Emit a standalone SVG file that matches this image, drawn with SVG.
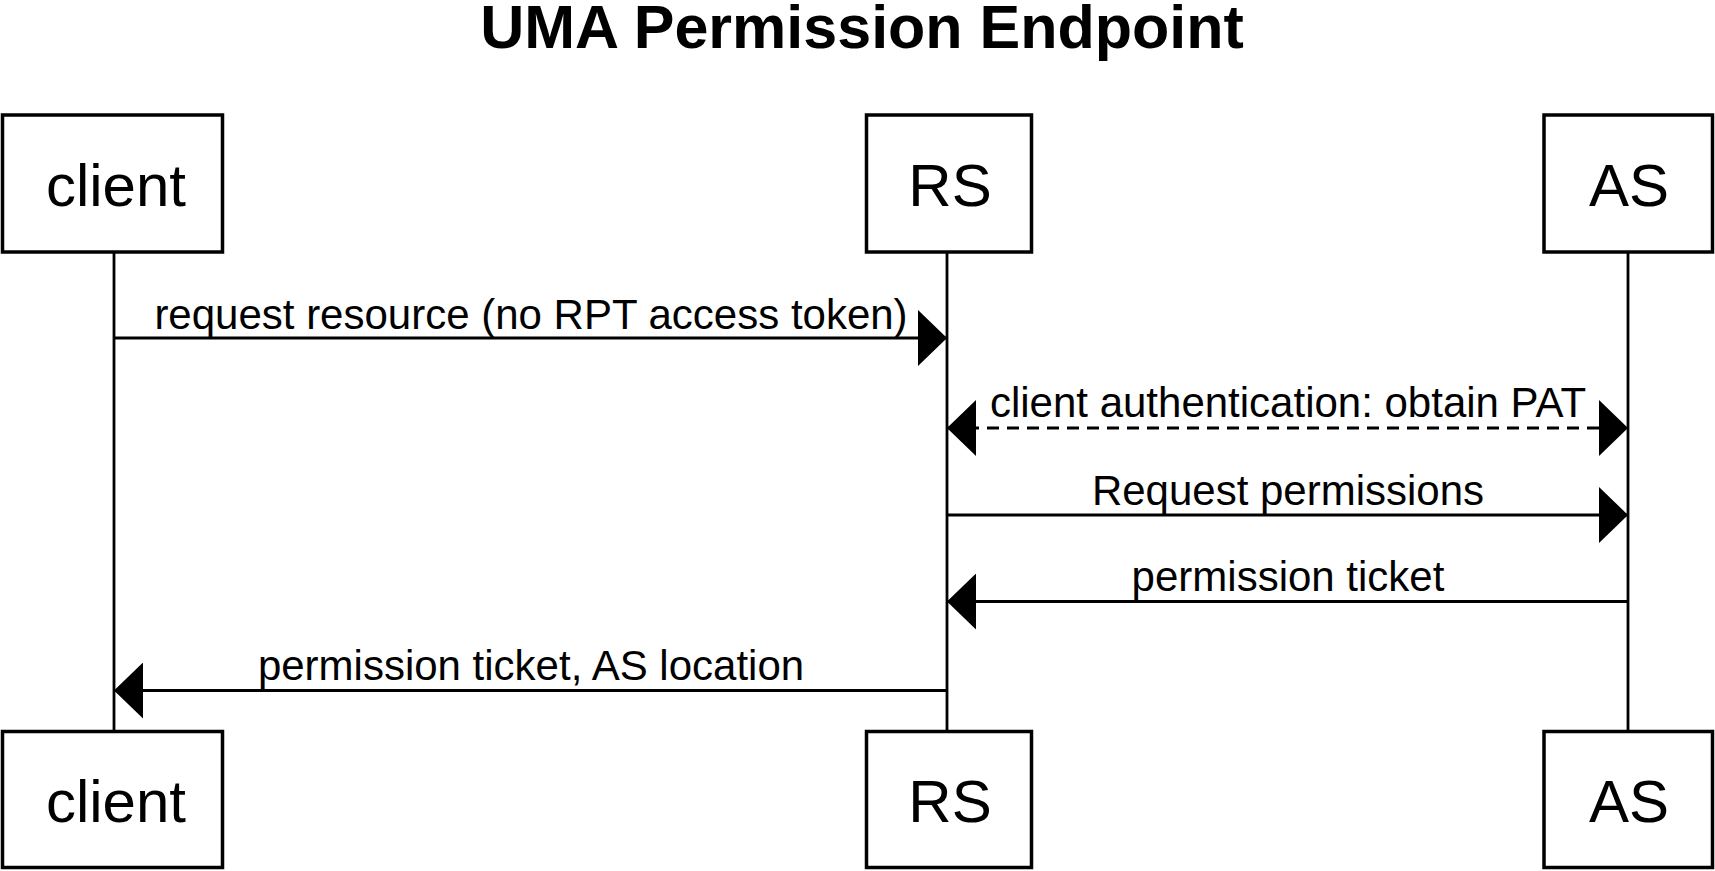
<svg xmlns="http://www.w3.org/2000/svg" width="1715" height="871" viewBox="0 0 1715 871">
<style>
.box{fill:#fff;stroke:#000;stroke-width:3.5}
.life{stroke:#000;stroke-width:2.8;fill:none}
.msg{stroke:#000;stroke-width:3;fill:none}
.dash{stroke-dasharray:12 8}
.name{font-family:"Liberation Sans",Arial,sans-serif;font-size:60px;text-anchor:middle;fill:#000}
.lbl{font-family:"Liberation Sans",Arial,sans-serif;font-size:42px;text-anchor:middle;fill:#000}
.title{font-family:"Liberation Sans",Arial,sans-serif;font-size:61px;font-weight:bold;text-anchor:middle;fill:#000}
</style>
<defs>
<marker id="ah" markerUnits="userSpaceOnUse" markerWidth="30" markerHeight="56" refX="29" refY="28" orient="auto-start-reverse" viewBox="0 0 30 56">
<path d="M0,0 L29,28 L0,56 z" fill="#000"/>
</marker>
</defs>
<rect width="1715" height="871" fill="#fff"/>
<text class="title" x="862" y="48">UMA Permission Endpoint</text>
<g id="lifelines">
<line class="life" x1="114" y1="252" x2="114" y2="731"/>
<line class="life" x1="947" y1="252" x2="947" y2="731"/>
<line class="life" x1="1628" y1="252" x2="1628" y2="731"/>
</g>
<g id="client-top"><rect class="box" x="2.5" y="115" width="220" height="137"/><text class="name" x="116" y="206">client</text></g>
<g id="rs-top"><rect class="box" x="866.5" y="115" width="165" height="137"/><text class="name" x="950" y="206">RS</text></g>
<g id="as-top"><rect class="box" x="1544" y="115" width="168.5" height="137"/><text class="name" x="1629" y="206">AS</text></g>
<g id="client-bottom"><rect class="box" x="2.5" y="731.5" width="220" height="136"/><text class="name" x="116" y="821.5">client</text></g>
<g id="rs-bottom"><rect class="box" x="866.5" y="731.5" width="165" height="136"/><text class="name" x="950" y="821.5">RS</text></g>
<g id="as-bottom"><rect class="box" x="1544" y="731.5" width="168.5" height="136"/><text class="name" x="1629" y="821.5">AS</text></g>
<g id="connectors">
<line class="msg" x1="114" y1="338" x2="947" y2="338" marker-end="url(#ah)"/>
<text class="lbl" x="531" y="329">request resource (no RPT access token)</text>
<line class="msg dash" x1="947" y1="428" x2="1628" y2="428" marker-start="url(#ah)" marker-end="url(#ah)"/>
<text class="lbl" x="1288" y="417">client authentication: obtain PAT</text>
<line class="msg" x1="947" y1="515" x2="1628" y2="515" marker-end="url(#ah)"/>
<text class="lbl" x="1288" y="505">Request permissions</text>
<line class="msg" x1="1628" y1="601.5" x2="947" y2="601.5" marker-end="url(#ah)"/>
<text class="lbl" x="1288" y="591">permission ticket</text>
<line class="msg" x1="947" y1="690.5" x2="114" y2="690.5" marker-end="url(#ah)"/>
<text class="lbl" x="531" y="680">permission ticket, AS location</text>
</g>
</svg>
